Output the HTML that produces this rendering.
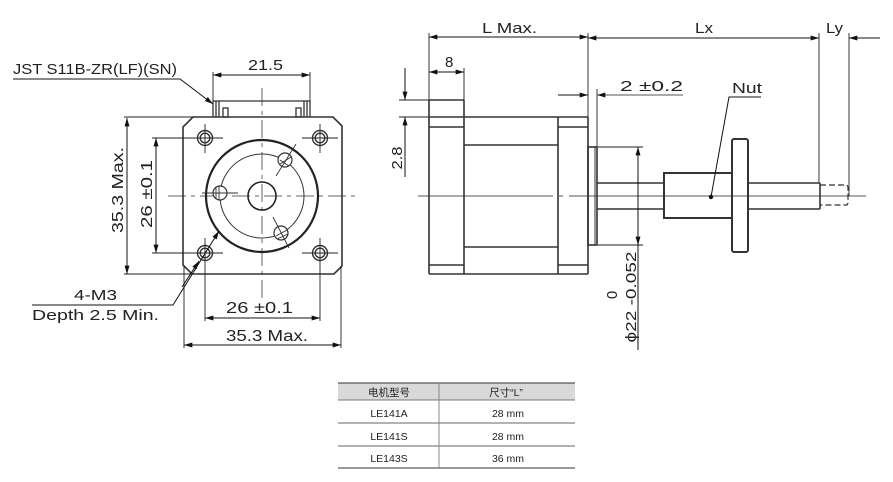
<!DOCTYPE html>
<html><head><meta charset="utf-8"><style>
html,body{margin:0;padding:0;background:#fff;}
svg{display:block;}
text{font-family:"Liberation Sans","Noto Sans CJK SC",sans-serif;fill:#222;}
</style></head><body>
<svg width="893" height="482" viewBox="0 0 893 482" xmlns="http://www.w3.org/2000/svg">
<defs>
<marker id="a" viewBox="0 0 10 6" refX="10" refY="3" markerWidth="11" markerHeight="5" markerUnits="userSpaceOnUse" orient="auto-start-reverse">
<path d="M0,0 L10,3 L0,6 z" fill="#111"/>
</marker>
</defs>
<rect width="893" height="482" fill="#fff"/>

<!-- ================= LEFT VIEW ================= -->
<!-- centerlines -->
<g stroke="#666" stroke-width="1" fill="none" stroke-dasharray="18,5,4,5">
<line x1="168" y1="196" x2="357" y2="196"/>
<line x1="262" y1="88" x2="262" y2="302"/>
</g>
<!-- body -->
<polygon points="193,117 333,117 342,126 342,266 334,274 192,274 183,265 183,127" fill="none" stroke="#333" stroke-width="1.6"/>
<!-- connector -->
<g stroke="#333" stroke-width="1.3" fill="none">
<polyline points="213,117 213,101 310,101 310,117"/>
<line x1="216" y1="101" x2="216" y2="117"/>
<line x1="219" y1="101" x2="219" y2="117"/>
<rect x="223" y="108" width="5" height="9"/>
<rect x="296" y="108" width="5" height="9"/>
<line x1="304" y1="101" x2="304" y2="117"/>
<line x1="307" y1="101" x2="307" y2="117"/>
</g>
<!-- corner holes -->
<g stroke="#333" stroke-width="1.4" fill="none">
<circle cx="205" cy="138" r="7.5"/><circle cx="205" cy="138" r="4.8"/>
<circle cx="320" cy="138" r="7.5"/><circle cx="320" cy="138" r="4.8"/>
<circle cx="205" cy="253" r="7.5"/><circle cx="205" cy="253" r="4.8"/>
<circle cx="320" cy="253" r="7.5"/><circle cx="320" cy="253" r="4.8"/>
</g>
<!-- crosshairs / ext lines -->
<g stroke="#222" stroke-width="0.9" fill="none">
<line x1="152" y1="138" x2="223" y2="138"/>
<line x1="205" y1="124" x2="205" y2="153"/>
<line x1="302" y1="138" x2="338" y2="138"/>
<line x1="320" y1="124" x2="320" y2="153"/>
<line x1="152" y1="253" x2="223" y2="253"/>
<line x1="205" y1="238" x2="205" y2="321"/>
<line x1="302" y1="253" x2="338" y2="253"/>
<line x1="320" y1="238" x2="320" y2="321"/>
<line x1="124" y1="117" x2="193" y2="117"/>
<line x1="124" y1="274" x2="192" y2="274"/>
<line x1="184" y1="266" x2="184" y2="348"/>
<line x1="341" y1="266" x2="341" y2="348"/>
<line x1="213" y1="72" x2="213" y2="101"/>
<line x1="310" y1="72" x2="310" y2="101"/>
</g>
<!-- flange circles -->
<circle cx="262" cy="196" r="56" fill="none" stroke="#222" stroke-width="2.2"/>
<circle cx="262" cy="196" r="42" fill="none" stroke="#333" stroke-width="1"/>
<circle cx="262" cy="196" r="14" fill="none" stroke="#222" stroke-width="1.6"/>
<!-- small holes -->
<g stroke="#333" stroke-width="1.2" fill="#fff">
<circle cx="285" cy="160" r="7"/>
<circle cx="220" cy="193" r="7"/>
<circle cx="281" cy="233" r="7"/>
</g>
<g stroke="#333" stroke-width="0.9" fill="none">
<line x1="276" y1="176" x2="296" y2="144"/>
<line x1="280" y1="164" x2="291" y2="157"/>
<line x1="280" y1="160" x2="289" y2="166"/>
<line x1="202" y1="193" x2="238" y2="193"/>
<line x1="216" y1="187" x2="216" y2="199"/>
<line x1="219" y1="186" x2="219" y2="200"/>
<line x1="273" y1="217" x2="289" y2="248"/>
<line x1="276" y1="236" x2="287" y2="230"/>
<line x1="277" y1="239" x2="288" y2="234"/>
</g>
<!-- dimension lines -->
<g stroke="#111" stroke-width="1" fill="none">
<line x1="213" y1="75" x2="310" y2="75" marker-start="url(#a)" marker-end="url(#a)"/>
<line x1="127" y1="118" x2="127" y2="274" marker-start="url(#a)" marker-end="url(#a)"/>
<line x1="156" y1="138" x2="156" y2="253" marker-start="url(#a)" marker-end="url(#a)"/>
<line x1="205" y1="318" x2="320" y2="318" marker-start="url(#a)" marker-end="url(#a)"/>
<line x1="184" y1="345" x2="341" y2="345" marker-start="url(#a)" marker-end="url(#a)"/>
<polyline points="13,79 180,79 213,104" marker-end="url(#a)"/>
<polyline points="32,305 173,305 219,231" marker-end="url(#a)"/>
<line x1="182" y1="287" x2="199" y2="261" marker-end="url(#a)"/>
</g>
<!-- left view text -->
<text x="13" y="74" font-size="15" textLength="164" lengthAdjust="spacingAndGlyphs">JST S11B-ZR(LF)(SN)</text>
<text x="248" y="70" font-size="15" textLength="35" lengthAdjust="spacingAndGlyphs">21.5</text>
<text transform="translate(123,190) rotate(-90)" text-anchor="middle" font-size="16" textLength="86" lengthAdjust="spacingAndGlyphs">35.3 Max.</text>
<text transform="translate(152,194) rotate(-90)" text-anchor="middle" font-size="16" textLength="68" lengthAdjust="spacingAndGlyphs">26 ±0.1</text>
<text x="226" y="313" font-size="16" textLength="67" lengthAdjust="spacingAndGlyphs">26 ±0.1</text>
<text x="226" y="341" font-size="16" textLength="82" lengthAdjust="spacingAndGlyphs">35.3 Max.</text>
<text x="74" y="300" font-size="15" textLength="43" lengthAdjust="spacingAndGlyphs">4-M3</text>
<text x="32" y="320" font-size="15" textLength="127" lengthAdjust="spacingAndGlyphs">Depth 2.5 Min.</text>

<!-- ================= RIGHT VIEW ================= -->
<!-- centerline -->
<line x1="418" y1="196" x2="866" y2="196" stroke="#777" stroke-width="1.2" stroke-dasharray="135,6,4,6,400"/>
<!-- body -->
<g stroke="#333" stroke-width="1.6" fill="none">
<line x1="429" y1="100" x2="429" y2="274"/>
<line x1="464" y1="100" x2="464" y2="274"/>
<line x1="558" y1="117" x2="558" y2="274"/>
<line x1="588" y1="117" x2="588" y2="274"/>
<line x1="429" y1="100" x2="464" y2="100"/>
<line x1="429" y1="117" x2="588" y2="117"/>
<line x1="429" y1="127" x2="464" y2="127"/>
<line x1="558" y1="127" x2="588" y2="127"/>
<line x1="464" y1="145" x2="558" y2="145"/>
<line x1="464" y1="247" x2="558" y2="247"/>
<line x1="429" y1="265" x2="464" y2="265"/>
<line x1="558" y1="265" x2="588" y2="265"/>
<line x1="429" y1="274" x2="588" y2="274"/>
<!-- boss -->
<rect x="588" y="147" width="9" height="98"/>
<line x1="595" y1="147" x2="595" y2="245" stroke-width="1"/>
<!-- shaft -->
<line x1="597" y1="183" x2="663" y2="183"/>
<line x1="597" y1="209" x2="663" y2="209"/>
<line x1="748" y1="183" x2="820" y2="183"/>
<line x1="748" y1="209" x2="820" y2="209"/>
<line x1="820" y1="183" x2="820" y2="209"/>
<!-- nut -->
<rect x="664" y="173" width="68" height="45" stroke-width="2"/>
<rect x="732" y="139" width="16" height="113" rx="2" stroke-width="2"/>
</g>
<g stroke="#333" stroke-width="1.2" fill="none" stroke-dasharray="6,3">
<polyline points="820,185 847,185 848,187 848,203 847,205 820,205"/>
</g>
<!-- extension lines right -->
<g stroke="#222" stroke-width="0.9" fill="none">
<line x1="429" y1="33" x2="429" y2="100"/>
<line x1="588" y1="33" x2="588" y2="117"/>
<line x1="464" y1="68" x2="464" y2="100"/>
<line x1="597" y1="89" x2="597" y2="147"/>
<line x1="819" y1="33" x2="819" y2="183"/>
<line x1="849" y1="33" x2="849" y2="196"/>
<line x1="399" y1="100" x2="429" y2="100"/>
<line x1="399" y1="117" x2="429" y2="117"/>
<line x1="598" y1="147" x2="643" y2="147"/>
<line x1="598" y1="245" x2="643" y2="245"/>
</g>
<!-- dims right -->
<g stroke="#111" stroke-width="1" fill="none">
<line x1="429" y1="37" x2="588" y2="37" marker-start="url(#a)" marker-end="url(#a)"/>
<line x1="588" y1="38" x2="819" y2="38" marker-start="url(#a)" marker-end="url(#a)"/>
<line x1="880" y1="38" x2="849" y2="38" marker-end="url(#a)"/>
<line x1="429" y1="72" x2="464" y2="72" marker-start="url(#a)" marker-end="url(#a)"/>
<line x1="558" y1="95" x2="588" y2="95" marker-end="url(#a)"/>
<line x1="683" y1="95" x2="597" y2="95" marker-end="url(#a)" stroke="#555"/>
<line x1="405" y1="68" x2="405" y2="100" marker-end="url(#a)"/>
<line x1="405" y1="177" x2="405" y2="117" marker-end="url(#a)"/>
<line x1="638" y1="147" x2="638" y2="245" marker-start="url(#a)" marker-end="url(#a)"/>
<line x1="638" y1="245" x2="638" y2="350"/>
<polyline points="711,197 729,97 761,97"/>
</g>
<circle cx="711" cy="197" r="2.2" fill="#111"/>
<!-- right text -->
<text x="482" y="33" font-size="15" textLength="55" lengthAdjust="spacingAndGlyphs">L Max.</text>
<text x="445" y="67" font-size="15">8</text>
<text x="695" y="33" font-size="15" textLength="18" lengthAdjust="spacingAndGlyphs">Lx</text>
<text x="826" y="33" font-size="15" textLength="17" lengthAdjust="spacingAndGlyphs">Ly</text>
<text x="620" y="91" font-size="15" textLength="63" lengthAdjust="spacingAndGlyphs">2 ±0.2</text>
<text x="732" y="93" font-size="15" textLength="30" lengthAdjust="spacingAndGlyphs">Nut</text>
<text transform="translate(402,158) rotate(-90)" text-anchor="middle" font-size="15" textLength="23" lengthAdjust="spacingAndGlyphs">2.8</text>
<text transform="translate(636,297) rotate(-90)" text-anchor="middle" font-size="15" textLength="91" lengthAdjust="spacingAndGlyphs">ϕ22 -0.052</text>
<text transform="translate(617,295) rotate(-90)" text-anchor="middle" font-size="15">0</text>

<!-- ================= TABLE ================= -->
<rect x="338" y="383" width="237" height="17" fill="#d9d9d9"/>
<g stroke-width="1" fill="none">
<line x1="338" y1="383" x2="575" y2="383" stroke="#333"/>
<line x1="338" y1="400" x2="575" y2="400" stroke="#777"/>
<line x1="338" y1="423" x2="575" y2="423" stroke="#999" stroke-width="1.5"/>
<line x1="338" y1="446" x2="575" y2="446" stroke="#999" stroke-width="1.5"/>
<line x1="338" y1="468" x2="575" y2="468" stroke="#333"/>
<line x1="439" y1="383" x2="439" y2="468" stroke="#888"/>
</g>
<g font-size="10.5" text-anchor="middle">
<text x="389" y="396">电机型号</text>
<text x="506" y="396">尺寸“L”</text>
<text x="389" y="417">LE141A</text>
<text x="508" y="417">28 mm</text>
<text x="389" y="440">LE141S</text>
<text x="508" y="440">28 mm</text>
<text x="389" y="462">LE143S</text>
<text x="508" y="462">36 mm</text>
</g>
</svg>
</body></html>
